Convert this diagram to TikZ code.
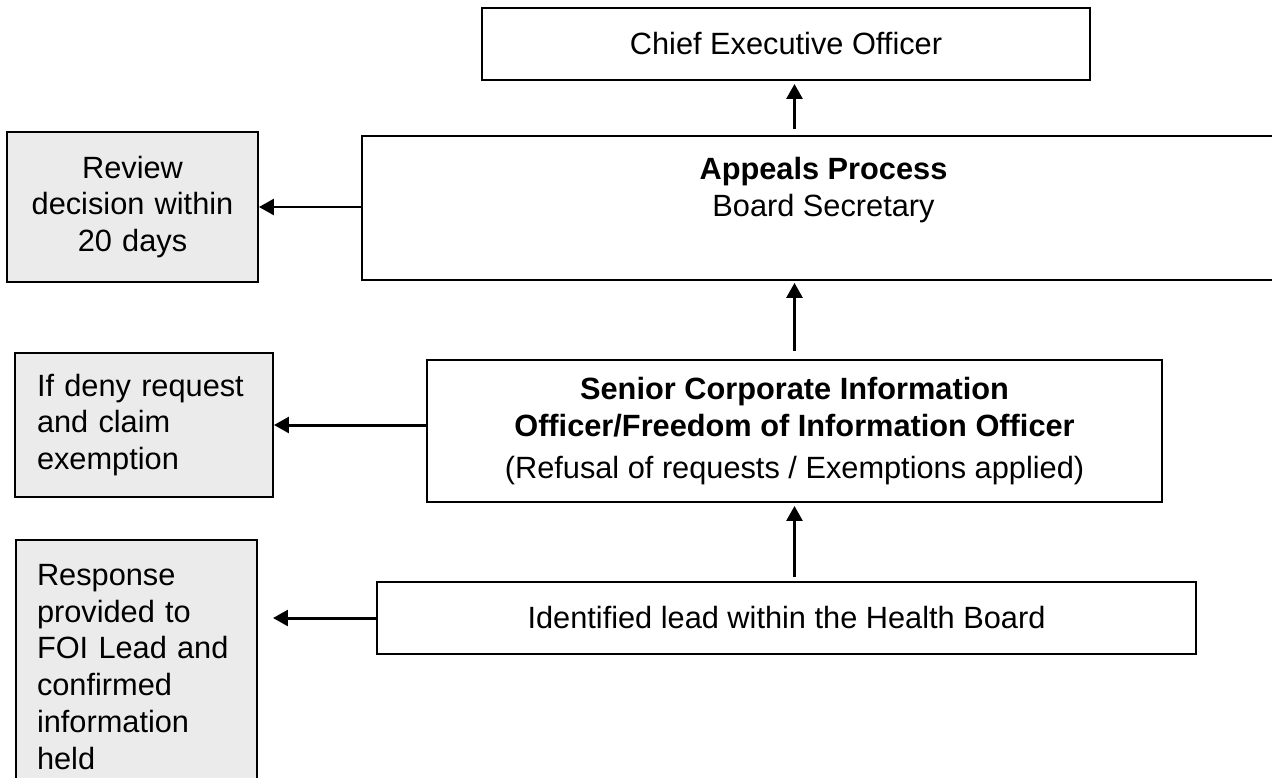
\documentclass[tikz,border=0pt]{standalone}
\usepackage{fontspec}
\setmainfont{Liberation Sans}
\usetikzlibrary{arrows.meta}
\definecolor{boxgrey}{RGB}{235,235,235}

\begin{document}
\begin{tikzpicture}[x=0.02cm,y=-0.02cm,
  box/.style={draw, line width=1.1pt, inner sep=0pt, font=\fontsize{17.5}{21}\selectfont},
  greybox/.style={box, fill=boxgrey},
  arr/.style={line width=1.7pt, -{Triangle[length=8.5pt,width=9pt]}}]
\path[use as bounding box] (0,0) rectangle (1272,778);
\clip (0,0) rectangle (1272,778);
% Main chain
\node[box, minimum width=12.16cm, minimum height=1.44cm] (ceo) at (786,44) {Chief Executive Officer};
\node[box, minimum width=18.46cm, minimum height=2.88cm] (appeals) at (823.5,208) {};
\node[align=center, anchor=north, inner sep=0pt, font=\fontsize{17.5}{21}\selectfont] (appealstext)
  at ([yshift=-0.44cm]appeals.north) {\textbf{Appeals Process}\\Board Secretary};
\node[box, align=center, minimum width=14.7cm, minimum height=2.84cm] (senior) at (794.5,431)
  {\textbf{Senior Corporate Information}\\\textbf{Officer/Freedom of Information Officer}\\[3pt](Refusal of requests / Exemptions applied)};
\node[box, minimum width=16.38cm, minimum height=1.44cm] (ident) at (786.5,618) {Identified lead within the Health Board};
% Grey boxes
\node[greybox, align=center, text width=5.02cm, minimum height=3cm] (review) at (132.5,207) {Review\\decision within\\20 days};
\node[greybox, align=left, inner xsep=0.44cm, text width=4.28cm, minimum height=2.88cm] (deny) at (144,425) {If deny request\\and claim\\exemption};
\node[greybox, align=left, inner xsep=0.42cm, text width=3.98cm, minimum height=5.08cm] (response) at (136.5,667)
  {Response\\provided to\\FOI Lead and\\confirmed\\information\\held};
% Arrows
\draw[arr, shorten <=3.4pt, shorten >=1.7pt] (appeals.north -| senior.north) -- (ceo.south -| senior.north);
\draw[arr, shorten <=4.5pt, shorten >=1.1pt] (senior.north) -- (senior.north |- appeals.south);
\draw[arr, shorten <=2.3pt, shorten >=1.7pt] (ident.north -| senior.south) -- (senior.south);
\draw[arr] (appeals.west |- review.east) -- (review.east);
\draw[arr] (senior.west |- deny.east) -- (deny.east);
\coordinate (resptip) at (273,618);
\draw[arr] (ident.west) -- (resptip);
\end{tikzpicture}
\end{document}
